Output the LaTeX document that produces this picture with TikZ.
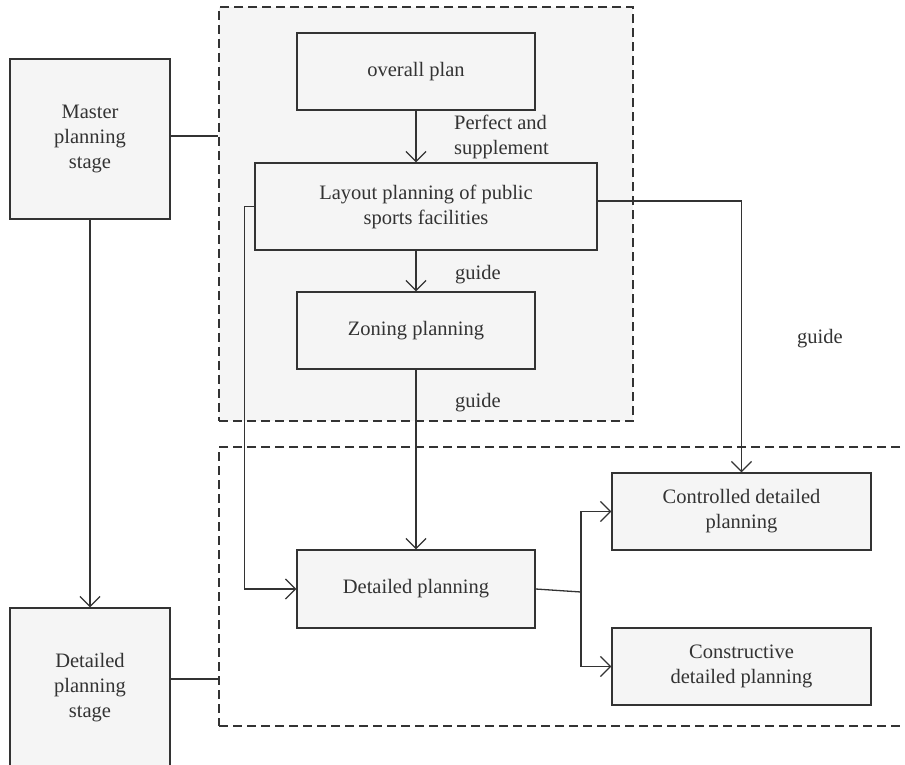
\documentclass[tikz,border=0pt]{standalone}
\usepackage{fontspec}
\setmainfont{Liberation Serif}
\usetikzlibrary{arrows.meta}
\definecolor{ink}{HTML}{333333}
\definecolor{boxfill}{HTML}{F5F5F5}
\begin{document}
\begin{tikzpicture}[x=1pt,y=-1pt,
  every node/.style={font=\fontsize{20.5}{25}\selectfont, text=ink},
  stagebox/.style={draw=ink, line width=1.3pt, fill=boxfill, align=center,
    inner sep=0pt, minimum width=160pt, minimum height=160pt},
  planbox/.style={draw=ink, line width=1.3pt, fill=boxfill, align=center,
    inner sep=0pt, minimum width=238pt, minimum height=77pt},
  region/.style={draw=ink, line width=1.2pt, dash pattern=on 9pt off 5pt, inner sep=0pt},
  link/.style={draw=ink, line width=1.3pt},
  arr/.style={link, -{Straight Barb[length=10pt, width=20pt, line width=1.3pt]}},
  lbl/.style={inner sep=0pt, align=left}
]
\useasboundingbox (0,0) rectangle (905,764);
\clip (0,0) rectangle (905,764);

% dashed regions
\node[region, fill=boxfill, minimum width=414pt, minimum height=414pt] (upper) at (426,214) {};
\node[region, fill=white, minimum width=726pt, minimum height=279pt] (lower) at (582,586.5) {};

% stage boxes
\node[stagebox] (master) at (90,139) {Master\\planning\\stage};
\node[stagebox] (dstage) at (90,688) {Detailed\\planning\\stage};

% planning boxes
\node[planbox] (overall) at (416,71.5) {overall plan};
\node[planbox, minimum width=342pt, minimum height=87pt] (layout) at (426,206.5)
  {Layout planning of public\\sports facilities};
\node[planbox] (zoning) at (416,330.5) {Zoning planning};
\node[planbox, minimum height=78pt] (dplan) at (416,589) {Detailed planning};
\node[planbox, minimum width=259pt] (ctrl) at (741.5,511.5) {Controlled detailed\\planning};
\node[planbox, minimum width=259pt] (cons) at (741.5,666.5) {Constructive\\detailed planning};

% labels
\node[lbl, anchor=west] (lperfect) at (454,137) {Perfect and\\supplement};
\node[lbl, anchor=west] (lguide1) at (455,275) {guide};
\node[lbl, anchor=west] (lguide2) at (455,403) {guide};
\node[lbl] (lguide3) at (820,339) {guide};

% stage links
\draw[link] ([yshift=3pt]master.east) -- ([yshift=3pt]master.east -| upper.west);
\draw[link] ([yshift=9pt]dstage.east) -- ([yshift=9pt]dstage.east -| lower.west);
\draw[arr] (master.south) -- (dstage.north);

% flow inside the upper region
\draw[arr] (overall.south) -- (overall.south |- layout.north);
\draw[arr] (zoning.north |- layout.south) -- (zoning.north);
\draw[arr] (zoning.south) -- (dplan.north);
\draw[arr] (layout.west) -- ++(-10,0) |- (dplan.west);
\draw[arr] ([yshift=5.5pt]layout.east) -| (ctrl.north);

% split to the two detailed plans
\coordinate (split) at (581,592);
\draw[link] (dplan.east) -- (split);
\draw[arr] (split) |- (ctrl.west);
\draw[arr] (split) |- (cons.west);
\end{tikzpicture}
\end{document}
